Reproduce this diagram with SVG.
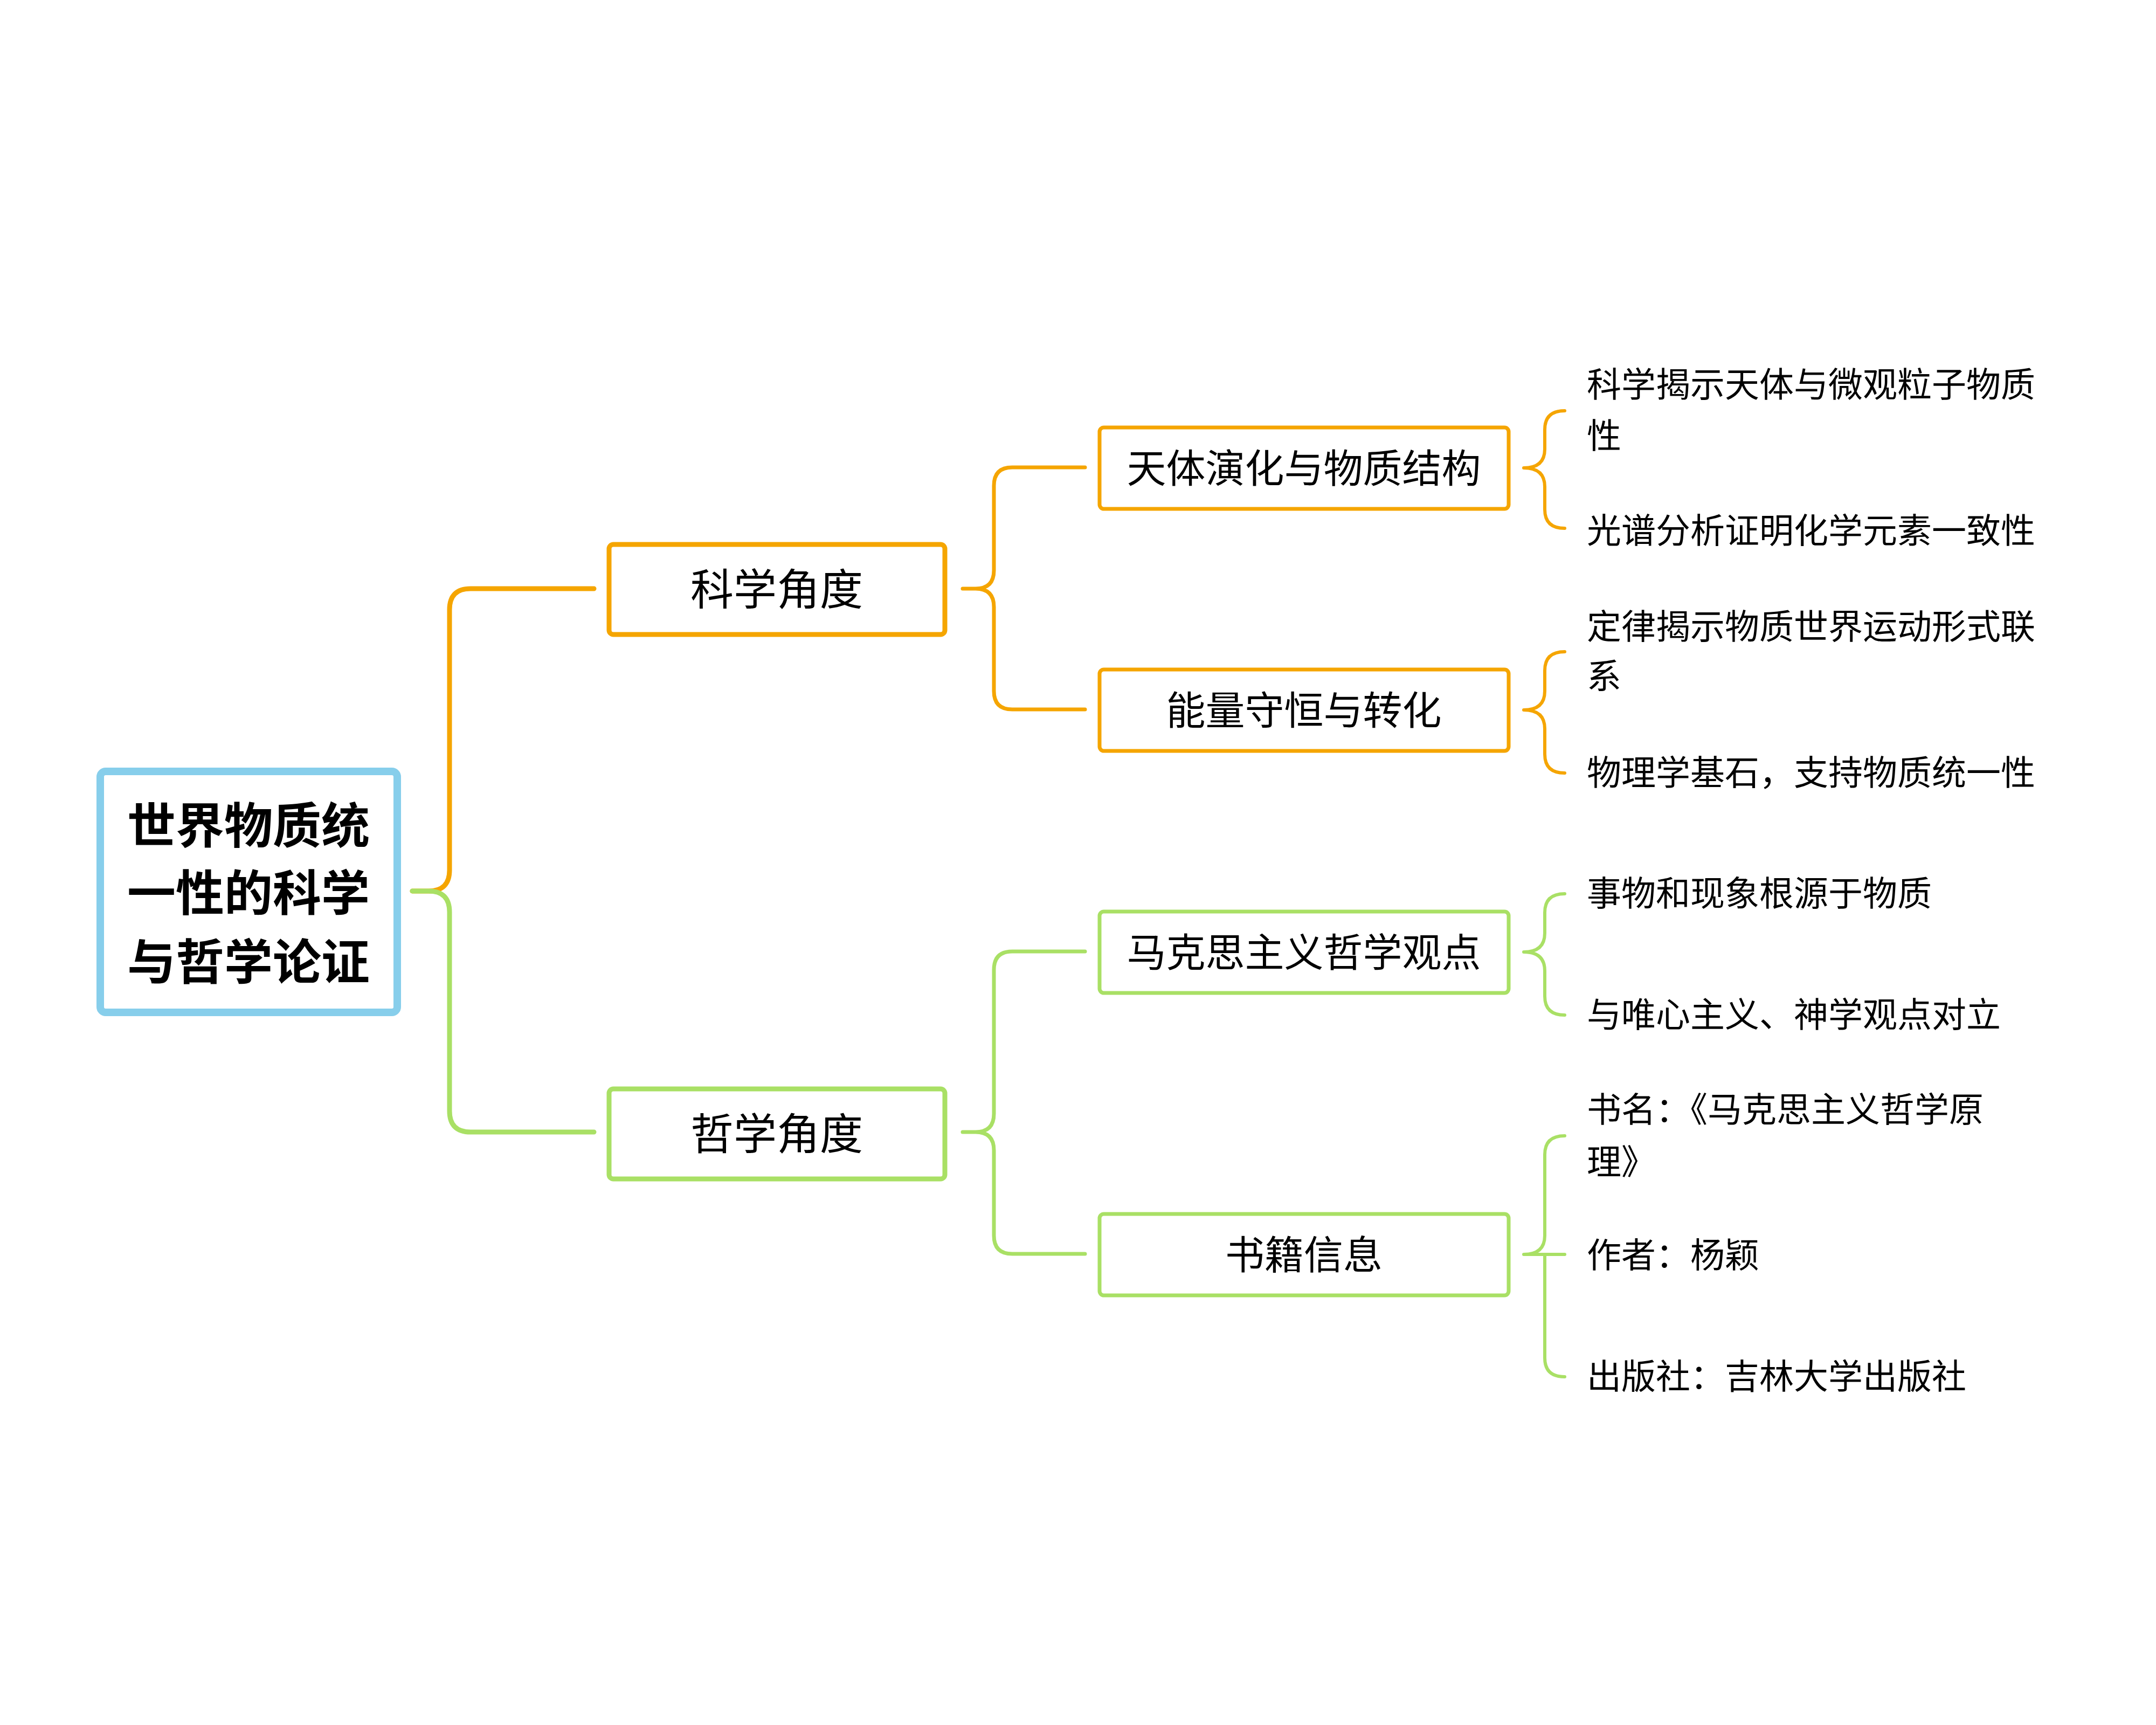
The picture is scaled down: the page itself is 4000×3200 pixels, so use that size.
<svg xmlns="http://www.w3.org/2000/svg" width="4000" height="3200" viewBox="0 0 4000 3200">
<style>
text{font-family:"Liberation Serif","Noto Sans CJK SC",serif;fill:#000;dominant-baseline:central}
.o{stroke:#F5A500}.g{stroke:#A9E065}
.c{fill:none;stroke-linecap:round;stroke-linejoin:round}
.l1{font-size:80px;text-anchor:middle}
.l2{font-size:73px;text-anchor:middle}
.lf{font-size:64px}
</style>
<rect width="4000" height="3200" fill="#fff"/>
<g id="connectors" class="c">
<path class="o" stroke-width="9" d="M765,1653 H795 Q834,1653 834,1614 V1131 Q834,1092 873,1092 H1102"/>
<path class="g" stroke-width="9" d="M765,1653 H795 Q834,1653 834,1692 V2061 Q834,2100 873,2100 H1102"/>
<path class="o" stroke-width="7" d="M1786,1092 H1810 Q1844,1092 1844,1058 V901 Q1844,867 1878,867 H2013 M1810,1092 Q1844,1092 1844,1126 V1282 Q1844,1316 1878,1316 H2013"/>
<path class="g" stroke-width="7" d="M1786,2100 H1810 Q1844,2100 1844,2066 V1799 Q1844,1765 1878,1765 H2013 M1810,2100 Q1844,2100 1844,2134 V2292 Q1844,2326 1878,2326 H2013"/>
<path class="o" stroke-width="6" d="M2827,868 Q2866,868 2866,833 V797 Q2866,762 2903,762 M2827,868 Q2866,868 2866,903 V945 Q2866,980 2903,980"/>
<path class="o" stroke-width="6" d="M2827,1317 Q2866,1317 2866,1282 V1244 Q2866,1209 2903,1209 M2827,1317 Q2866,1317 2866,1352 V1399 Q2866,1434 2903,1434"/>
<path class="g" stroke-width="6" d="M2827,1766 Q2866,1766 2866,1731 V1693 Q2866,1658 2903,1658 M2827,1766 Q2866,1766 2866,1801 V1848 Q2866,1883 2903,1883"/>
<path class="g" stroke-width="6" d="M2827,2327 Q2866,2327 2866,2292 V2142 Q2866,2107 2903,2107 M2827,2327 H2903 M2866,2327 V2519 Q2866,2554 2903,2554"/>
</g>
<g id="root">
<rect x="186" y="1431" width="551" height="447" rx="10" fill="#fff" stroke="#87CEEB" stroke-width="14"/>
<text x="461" y="1533" font-size="90" font-weight="bold" text-anchor="middle">世界物质统</text>
<text x="461" y="1658" font-size="90" font-weight="bold" text-anchor="middle">一性的科学</text>
<text x="461" y="1786" font-size="90" font-weight="bold" text-anchor="middle">与哲学论证</text>
</g>
<g id="science">
<rect class="o" x="1130" y="1010" width="623" height="167" rx="8" fill="#fff" stroke-width="9"/>
<text class="l1" x="1441" y="1095">科学角度</text>
</g>
<g id="philosophy">
<rect class="g" x="1130" y="2020" width="623" height="167" rx="8" fill="#fff" stroke-width="9"/>
<text class="l1" x="1441" y="2105">哲学角度</text>
</g>
<g id="n1">
<rect class="o" x="2040" y="793" width="759" height="151" rx="8" fill="#fff" stroke-width="7"/>
<text class="l2" x="2419" y="870">天体演化与物质结构</text>
</g>
<g id="n2">
<rect class="o" x="2040" y="1242" width="759" height="151" rx="8" fill="#fff" stroke-width="7"/>
<text class="l2" x="2419" y="1319">能量守恒与转化</text>
</g>
<g id="n3">
<rect class="g" x="2040" y="1691" width="759" height="151" rx="8" fill="#fff" stroke-width="7"/>
<text class="l2" x="2419" y="1768">马克思主义哲学观点</text>
</g>
<g id="n4">
<rect class="g" x="2040" y="2252" width="759" height="151" rx="8" fill="#fff" stroke-width="7"/>
<text class="l2" x="2419" y="2329">书籍信息</text>
</g>
<g id="leaf1a"><text class="lf" x="2944" y="714">科学揭示天体与微观粒子物质</text><text class="lf" x="2944" y="809">性</text></g>
<g id="leaf1b"><text class="lf" x="2944" y="985">光谱分析证明化学元素一致性</text></g>
<g id="leaf2a"><text class="lf" x="2944" y="1163">定律揭示物质世界运动形式联</text><text class="lf" x="2944" y="1255">系</text></g>
<g id="leaf2b"><text class="lf" x="2944" y="1434">物理学基石，支持物质统一性</text></g>
<g id="leaf3a"><text class="lf" x="2944" y="1658">事物和现象根源于物质</text></g>
<g id="leaf3b"><text class="lf" x="2944" y="1883">与唯心主义、神学观点对立</text></g>
<g id="leaf4a"><text class="lf" x="2944" y="2059">书名：《马克思主义哲学原</text><text class="lf" x="2944" y="2156">理》</text></g>
<g id="leaf4b"><text class="lf" x="2944" y="2329">作者：杨颖</text></g>
<g id="leaf4c"><text class="lf" x="2944" y="2554">出版社：吉林大学出版社</text></g>
</svg>
